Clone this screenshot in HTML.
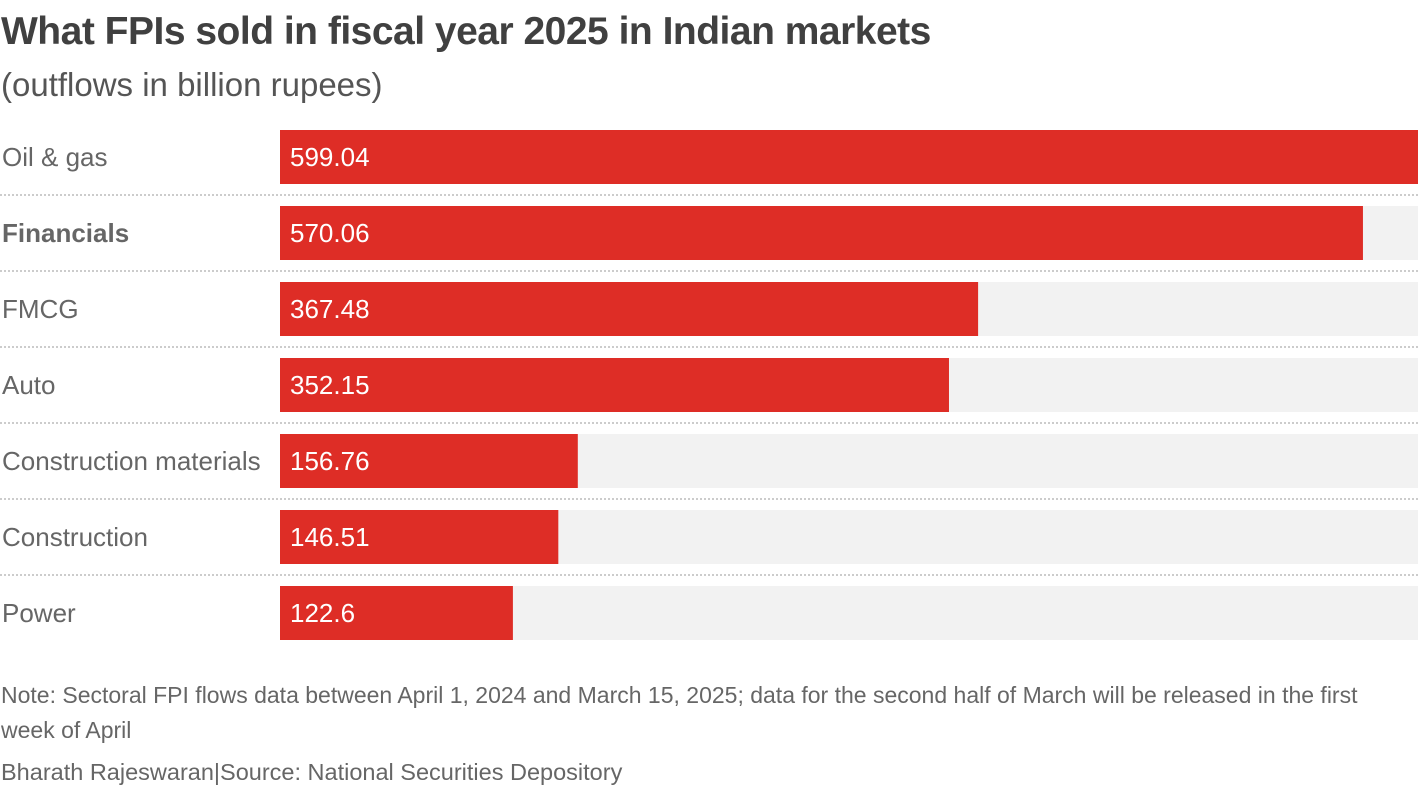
<!DOCTYPE html>
<html><head><meta charset="utf-8"><style>
body{margin:0;width:1420px;height:788px;background:#fff;font-family:"Liberation Sans",sans-serif;overflow:hidden;position:relative}
.t{position:absolute;left:1px;top:10px;font-size:39px;font-weight:bold;color:#404040;letter-spacing:-0.5px}
.s{position:absolute;left:1px;top:66px;font-size:33px;color:#555}
.n{position:absolute;left:1px;top:678px;font-size:23px;color:#666;width:1415px;line-height:35px}
.c{position:absolute;left:1px;top:759px;font-size:23.5px;color:#666}
</style></head><body>
<div class="t">What FPIs sold in fiscal year 2025 in Indian markets</div>
<div class="s">(outflows in billion rupees)</div>
<svg id="ch" width="1420" height="788" style="position:absolute;left:0;top:0"></svg>
<div class="n">Note: Sectoral FPI flows data between April 1, 2024 and March 15, 2025; data for the second half of March will be released in the first week of April</div>
<div class="c">Bharath Rajeswaran|Source: National Securities Depository</div>
<script>
const categories=["Oil & gas","Financials","FMCG","Auto","Construction materials","Construction","Power"];
const values=[599.04,570.06,367.48,352.15,156.76,146.51,122.6];
const labels=["599.04","570.06","367.48","352.15","156.76","146.51","122.6"];
const x0=280,x1=1418,maxV=599.04;
const xs=v=>x0+(v/maxV)*(x1-x0);
const ys=i=>130+i*76;
const svg=document.getElementById('ch');
const NS="http://www.w3.org/2000/svg";
function mk(t,a){const e=document.createElementNS(NS,t);for(const k in a)e.setAttribute(k,a[k]);svg.appendChild(e);return e;}
categories.forEach((c,i)=>{
 const y=ys(i);
 const tr=mk('rect',{x:x0,y:y,width:x1-x0,height:54,fill:'#f2f2f2'});
 
 
 const b=mk('rect',{x:x0,y:y,width:xs(values[i])-x0,height:54,fill:'#de2d26'});
 
 
 const l=mk('text',{x:2,y:y+36,'font-size':26,fill:'#666','font-weight':i==1?'bold':'normal'});
 l.textContent=c;
 
 
 const v=mk('text',{x:x0+10,y:y+36,'font-size':26,fill:'#fff'});
 v.textContent=labels[i];
 
 
 if(i<categories.length-1){
  const d=mk('line',{x1:0,x2:1418,y1:y+65,y2:y+65,stroke:'#ccc','stroke-width':2,'stroke-dasharray':'2 2'});
  
  
 }
});
</script>
</body></html>
